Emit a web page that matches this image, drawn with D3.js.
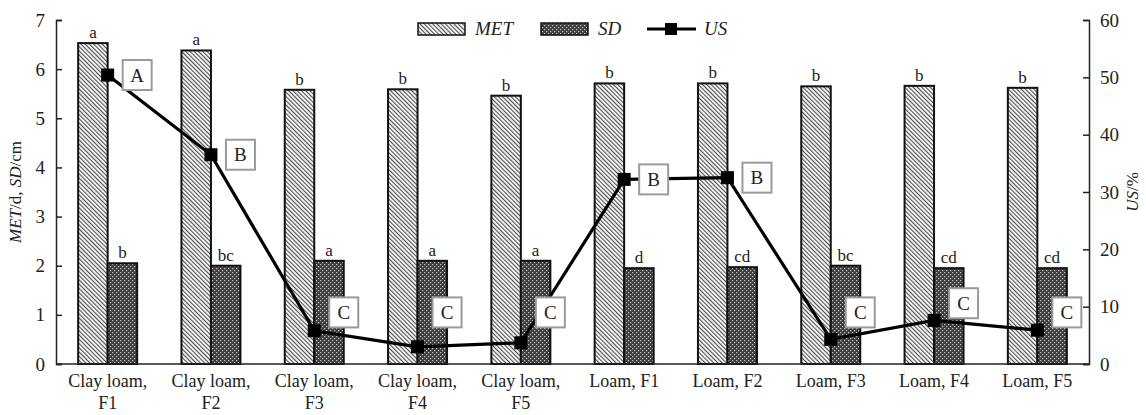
<!DOCTYPE html>
<html>
<head>
<meta charset="utf-8">
<script src="https://cdn.jsdelivr.net/npm/d3@7"></script>
<style>
  body { margin: 0; background: #fff; }
  svg text { font-family: "Liberation Serif", "Times New Roman", serif; fill: #222; }
</style>
</head>
<body>
<svg id="chart"></svg>
<script>
// values
var categories = ["Clay loam,|F1", "Clay loam,|F2", "Clay loam,|F3", "Clay loam,|F4", "Clay loam,|F5",
                  "Loam, F1", "Loam, F2", "Loam, F3", "Loam, F4", "Loam, F5"];
var metValues = [6.53, 6.38, 5.58, 5.59, 5.46, 5.71, 5.71, 5.65, 5.66, 5.62];
var sdValues = [2.05, 2.0, 2.1, 2.1, 2.1, 1.95, 1.97, 2.0, 1.95, 1.95];
var usValues = [50.4, 36.5, 5.8, 3.0, 3.7, 32.2, 32.5, 4.3, 7.6, 5.9];
var metLetters = ["a", "a", "b", "b", "b", "b", "b", "b", "b", "b"];
var sdLetters = ["b", "bc", "a", "a", "a", "d", "cd", "bc", "cd", "cd"];
var usLetters = ["A", "B", "C", "C", "C", "B", "B", "C", "C", "C"];
var leftTicks = [0, 1, 2, 3, 4, 5, 6, 7];
var rightTicks = [0, 10, 20, 30, 40, 50, 60];

var W = 1146, H = 415;
var margin = { top: 20, right: 57, bottom: 51, left: 56 };
var width = W - margin.left - margin.right,
    height = H - margin.top - margin.bottom;

var svg = d3.select("#chart").attr("width", W).attr("height", H);

var defs = svg.append("defs");
// MET hatch: fine diagonal lines
var hatch = defs.append("pattern")
    .attr("id", "hatch")
    .attr("patternUnits", "userSpaceOnUse")
    .attr("width", 3).attr("height", 8)
    .attr("patternTransform", "rotate(-45)");
hatch.append("rect").attr("width", 3).attr("height", 8).attr("fill", "#fff");
hatch.append("line").attr("x1", 0.6).attr("x2", 0.6).attr("y1", 0).attr("y2", 8)
    .attr("stroke", "#444").attr("stroke-width", 1.1);
// SD mesh: dark with light dots
var mesh = defs.append("pattern")
    .attr("id", "mesh")
    .attr("patternUnits", "userSpaceOnUse")
    .attr("width", 4).attr("height", 4);
mesh.append("rect").attr("width", 4).attr("height", 4).attr("fill", "#3c3c3c");
mesh.append("rect").attr("x", 0).attr("y", 0).attr("width", 1.2).attr("height", 1.2).attr("fill", "#c8c8c8");
mesh.append("rect").attr("x", 2).attr("y", 2).attr("width", 1.2).attr("height", 1.2).attr("fill", "#c8c8c8");

var g = svg.append("g").attr("transform", "translate(" + margin.left + "," + margin.top + ")");

var x = d3.scaleBand().domain(d3.range(categories.length)).range([0, width]).padding(0);
var y = d3.scaleLinear().domain([0, 7]).range([height, 0]);
var y2 = d3.scaleLinear().domain([0, 60]).range([height, 0]);
var barW = 29.5;

var data = categories.map(function(c, i) {
    return { i: i, met: metValues[i], sd: sdValues[i], us: usValues[i],
             ml: metLetters[i], sl: sdLetters[i], ul: usLetters[i] };
});

function cx(i) { return x(i) + x.bandwidth() / 2; }

// bars
g.selectAll(".met").data(data).enter().append("rect")
    .attr("class", "met")
    .attr("x", function(d) { return cx(d.i) - barW; })
    .attr("y", function(d) { return y(d.met); })
    .attr("width", barW)
    .attr("height", function(d) { return height - y(d.met); })
    .attr("fill", "url(#hatch)").attr("stroke", "#111").attr("stroke-width", 2);

g.selectAll(".sd").data(data).enter().append("rect")
    .attr("class", "sd")
    .attr("x", function(d) { return cx(d.i); })
    .attr("y", function(d) { return y(d.sd); })
    .attr("width", barW)
    .attr("height", function(d) { return height - y(d.sd); })
    .attr("fill", "url(#mesh)").attr("stroke", "#111").attr("stroke-width", 2);

// significance letters
g.selectAll(".mlab").data(data).enter().append("text")
    .attr("x", function(d) { return cx(d.i) - barW / 2; })
    .attr("y", function(d) { return y(d.met) - 5; })
    .attr("text-anchor", "middle").style("font-size", "17px")
    .text(function(d) { return d.ml; });
g.selectAll(".slab").data(data).enter().append("text")
    .attr("x", function(d) { return cx(d.i) + barW / 2; })
    .attr("y", function(d) { return y(d.sd) - 5; })
    .attr("text-anchor", "middle").style("font-size", "17px")
    .text(function(d) { return d.sl; });

// axes
g.append("line").attr("x1", 0).attr("x2", width).attr("y1", height).attr("y2", height)
    .attr("stroke", "#222").attr("stroke-width", 1.5);

var yAxis = g.append("g").call(d3.axisLeft(y).tickValues(leftTicks).tickFormat(d3.format("d")).tickSize(-6).tickPadding(11));
var yAxis2 = g.append("g").attr("transform", "translate(" + width + ",0)")
    .call(d3.axisRight(y2).tickValues(rightTicks).tickFormat(d3.format("d")).tickSize(-6).tickPadding(11));
[yAxis, yAxis2].forEach(function(a) {
    a.select(".domain").attr("stroke", "#222").attr("stroke-width", 1.5);
    a.selectAll(".tick line").attr("stroke", "#222").attr("stroke-width", 1.5);
    a.selectAll("text").style("font-size", "19px").style("font-family", "Liberation Serif, serif").attr("fill", "#222");
});

// x labels
var xl = g.selectAll(".xl").data(data).enter().append("text")
    .attr("text-anchor", "middle").style("font-size", "18px")
    .attr("transform", function(d) { return "translate(" + cx(d.i) + "," + (height + 23) + ")"; });
xl.each(function(d) {
    var parts = categories[d.i].split("|");
    var t = d3.select(this);
    parts.forEach(function(p, k) {
        t.append("tspan").attr("x", 0).attr("dy", k === 0 ? 0 : 22).text(p);
    });
});

// US line
var line = d3.line().x(function(d) { return cx(d.i); }).y(function(d) { return y2(d.us); });
g.append("path").datum(data).attr("d", line)
    .attr("fill", "none").attr("stroke", "#000").attr("stroke-width", 3.2);
g.selectAll(".mk").data(data).enter().append("rect")
    .attr("x", function(d) { return cx(d.i) - 6.5; })
    .attr("y", function(d) { return y2(d.us) - 6.5; })
    .attr("width", 13).attr("height", 13).attr("fill", "#000");

// US letter boxes
var lb = g.selectAll(".lb").data(data).enter().append("g")
    .attr("transform", function(d) {
        var v = d.us < 10 ? Math.max(d.us + 3, 9) : d.us;
        return "translate(" + (cx(d.i) + 15) + "," + (y2(v) - 15) + ")";
    });
lb.append("rect").attr("width", 29).attr("height", 30)
    .attr("fill", "#fff").attr("stroke", "#9a9a9a").attr("stroke-width", 2);
lb.append("text").attr("x", 14.5).attr("y", 21.5).attr("text-anchor", "middle")
    .style("font-size", "19px").text(function(d) { return d.ul; });

// axis titles
var lt = svg.append("text")
    .attr("transform", "translate(21," + (margin.top + height / 2) + ") rotate(-90)")
    .attr("text-anchor", "middle").style("font-size", "17px");
lt.append("tspan").style("font-style", "italic").text("MET");
lt.append("tspan").text("/d, ");
lt.append("tspan").style("font-style", "italic").text("SD");
lt.append("tspan").text("/cm");

var rt = svg.append("text")
    .attr("transform", "translate(1138," + (margin.top + height / 2) + ") rotate(-90)")
    .attr("text-anchor", "middle").style("font-size", "17px");
rt.append("tspan").style("font-style", "italic").text("US");
rt.append("tspan").text("/%");

// legend
var leg = svg.append("g").attr("transform", "translate(0,29)");
leg.append("rect").attr("x", 418).attr("y", -6).attr("width", 47).attr("height", 12)
    .attr("fill", "url(#hatch)").attr("stroke", "#111").attr("stroke-width", 1.5);
leg.append("text").attr("x", 475).attr("y", 6).style("font-size", "19px").style("font-style", "italic").text("MET");
leg.append("rect").attr("x", 541).attr("y", -6).attr("width", 47).attr("height", 12)
    .attr("fill", "url(#mesh)").attr("stroke", "#111").attr("stroke-width", 1.5);
leg.append("text").attr("x", 598).attr("y", 6).style("font-size", "19px").style("font-style", "italic").text("SD");
leg.append("line").attr("x1", 647).attr("x2", 696).attr("y1", 0).attr("y2", 0)
    .attr("stroke", "#000").attr("stroke-width", 3.2);
leg.append("rect").attr("x", 665).attr("y", -6).attr("width", 12).attr("height", 12).attr("fill", "#000");
leg.append("text").attr("x", 704).attr("y", 6).style("font-size", "19px").style("font-style", "italic").text("US");
</script>
</body>
</html>
